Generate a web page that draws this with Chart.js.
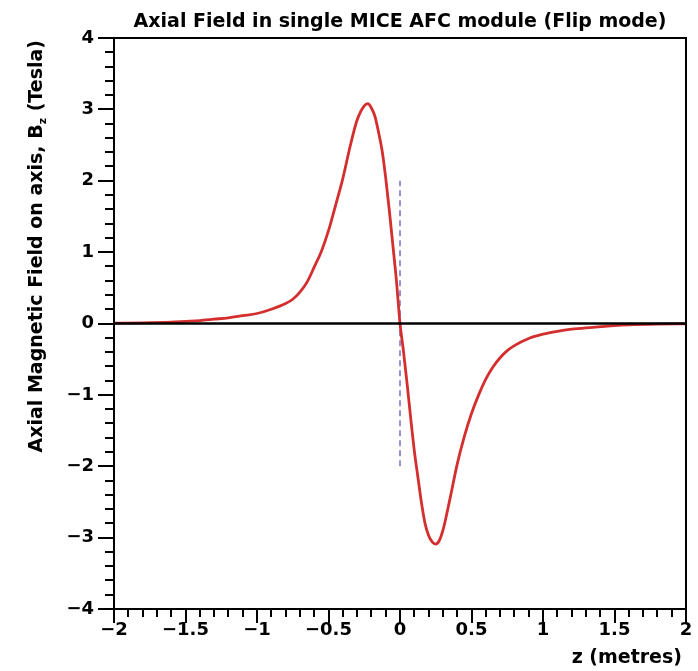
<!DOCTYPE html>
<html>
<head>
<meta charset="utf-8">
<script src="https://cdn.jsdelivr.net/npm/chart.js@4.4.0/dist/chart.umd.min.js"></script>
<style>
  html, body { margin: 0; padding: 0; background: #fff; }
  #chart { display: block; }
</style>
</head>
<body>
<canvas id="chart" width="698" height="671"></canvas>
<script>
// axial field, z in metres, B in tesla
const zValues = [-2.0, -1.8, -1.6, -1.5, -1.4, -1.3, -1.2, -1.1, -1.0, -0.9, -0.8, -0.75, -0.7, -0.65, -0.6, -0.55, -0.5, -0.45, -0.4, -0.35, -0.3, -0.25, -0.225, -0.2, -0.175, -0.15, -0.125, -0.1, -0.075, -0.05, -0.025,
  0, 0.025, 0.05, 0.075, 0.1, 0.125, 0.15, 0.175, 0.2, 0.225, 0.25, 0.275, 0.3, 0.35, 0.4, 0.45, 0.5, 0.55, 0.6, 0.65, 0.7, 0.75, 0.8, 0.9, 1.0, 1.1, 1.2, 1.3, 1.4, 1.5, 1.6, 1.8, 2.0];
const bField = [0.005, 0.01, 0.02, 0.03, 0.04, 0.06, 0.08, 0.11, 0.14, 0.20, 0.28, 0.34, 0.44, 0.58, 0.79, 1.01, 1.30, 1.66, 2.03, 2.47, 2.85, 3.05, 3.08, 3.02, 2.90, 2.68, 2.42, 2.04, 1.59, 1.10, 0.60,
  0, -0.40, -0.85, -1.33, -1.78, -2.15, -2.51, -2.80, -2.97, -3.06, -3.09, -3.04, -2.90, -2.45, -1.97, -1.58, -1.26, -1.00, -0.78, -0.61, -0.48, -0.38, -0.31, -0.21, -0.15, -0.11, -0.08, -0.06, -0.045, -0.03, -0.02, -0.01, -0.005];

// dashed marker at z = 0
const markerZ = [0, 0];
const markerB = [-2, 2];

const xMajorTicks = [-2, -1.5, -1, -0.5, 0, 0.5, 1, 1.5, 2];
const yMajorTicks = [-4, -3, -2, -1, 0, 1, 2, 3, 4];

const fontFam = '"DejaVu Sans", sans-serif';

function fmt(v) {
  const s = String(Math.round(v * 10) / 10);
  return s.replace('-', '\u2212');
}

// frame, ROOT-style ticks and titles
const rootFrame = {
  id: 'rootFrame',
  afterDraw(chart) {
    const ctx = chart.ctx;
    const a = chart.chartArea;
    const xs = chart.scales.x, ys = chart.scales.y;
    ctx.save();
    ctx.strokeStyle = '#000';
    ctx.lineWidth = 2;
    ctx.strokeRect(a.left, a.top, a.right - a.left, a.bottom - a.top);

    ctx.lineWidth = 2;
    ctx.beginPath();
    // x ticks every 0.1, long at the labelled ones
    for (let i = 0; i <= 40; i++) {
      const v = -2 + i * 0.1;
      const px = Math.round(xs.getPixelForValue(v));
      const major = xMajorTicks.some(t => Math.abs(t - v) < 1e-6);
      ctx.moveTo(px, a.bottom);
      ctx.lineTo(px, a.bottom + (major ? 14 : 8));
    }
    // y ticks every 0.2
    for (let i = 0; i <= 40; i++) {
      const v = -4 + i * 0.2;
      const py = Math.round(ys.getPixelForValue(v));
      const major = yMajorTicks.some(t => Math.abs(t - v) < 1e-6);
      ctx.moveTo(a.left, py);
      ctx.lineTo(a.left - (major ? 16 : 9), py);
    }
    ctx.stroke();

    ctx.fillStyle = '#000';
    ctx.font = 'bold 19px ' + fontFam;
    ctx.textAlign = 'center';
    ctx.textBaseline = 'alphabetic';
    ctx.fillText('Axial Field in single MICE AFC module (Flip mode)', (a.left + a.right) / 2, 27);

    ctx.textAlign = 'right';
    ctx.fillText('z (metres)', 682, 663);

    // y title, right aligned at the top of the axis
    ctx.translate(42, 40);
    ctx.rotate(-Math.PI / 2);
    ctx.textAlign = 'right';
    const tail = ' (Tesla)';
    ctx.fillText(tail, 0, 0);
    let w = ctx.measureText(tail).width;
    ctx.font = 'bold 11px ' + fontFam;
    ctx.fillText('z', -w, 4);
    w += ctx.measureText('z').width;
    ctx.font = 'bold 19px ' + fontFam;
    ctx.fillText('Axial Magnetic Field on axis, B', -w, 0);
    ctx.restore();
  }
};

new Chart(document.getElementById('chart'), {
  type: 'line',
  data: {
    datasets: [
      {
        data: [{ x: -2, y: 0 }, { x: 2, y: 0 }],
        borderColor: '#000',
        borderWidth: 2.5,
        pointRadius: 0
      },
      {
        data: zValues.map((z, i) => ({ x: z, y: bField[i] })),
        borderColor: '#d42e2e',
        borderWidth: 2.8,
        pointRadius: 0,
        cubicInterpolationMode: 'monotone'
      },
      {
        data: markerZ.map((z, i) => ({ x: z, y: markerB[i] })),
        borderColor: '#7272c6',
        borderWidth: 1.5,
        borderDash: [6, 4],
        pointRadius: 0
      }
    ]
  },
  options: {
    responsive: false,
    animation: false,
    devicePixelRatio: 1,
    layout: { padding: { top: 38, right: 12, left: 0, bottom: 0 } },
    plugins: { legend: { display: false }, tooltip: { enabled: false }, title: { display: false } },
    scales: {
      x: {
        type: 'linear',
        min: -2, max: 2,
        afterFit: s => { s.height = 62; s.paddingLeft = 0; s.paddingRight = 0; },
        afterBuildTicks: s => { s.ticks = xMajorTicks.map(v => ({ value: v })); },
        grid: { display: false, drawTicks: false },
        border: { display: false },
        ticks: {
          padding: 11,
          maxRotation: 0,
          autoSkip: false,
          color: '#000',
          font: { family: fontFam, size: 18, weight: 'bold' },
          callback: v => fmt(v)
        }
      },
      y: {
        type: 'linear',
        min: -4, max: 4,
        afterFit: s => { s.width = 114; s.paddingTop = 0; s.paddingBottom = 0; },
        afterBuildTicks: s => { s.ticks = yMajorTicks.map(v => ({ value: v })); },
        grid: { display: false, drawTicks: false },
        border: { display: false },
        ticks: {
          padding: 20,
          autoSkip: false,
          color: '#000',
          font: { family: fontFam, size: 18, weight: 'bold' },
          callback: v => fmt(v)
        }
      }
    }
  },
  plugins: [rootFrame]
});
</script>
</body>
</html>
